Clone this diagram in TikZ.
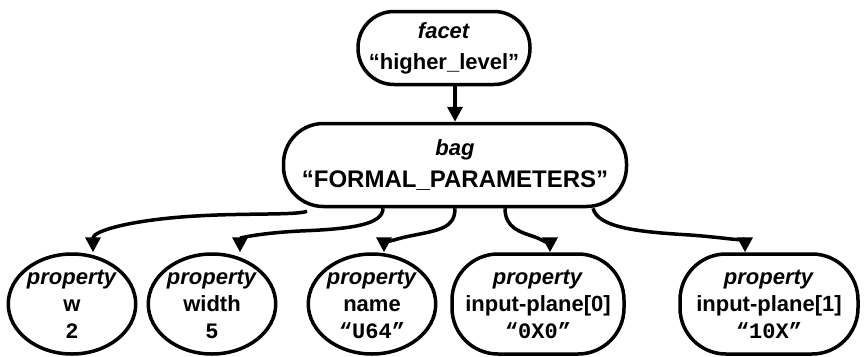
\documentclass[tikz,border=0pt]{standalone}
\usepackage{fontspec}
\setmainfont{Liberation Sans}
\newfontfamily\monofnt{Liberation Mono}
\usetikzlibrary{arrows.meta,shapes.geometric}
\tikzset{
  lbl/.style={font=\fontsize{22}{30}\selectfont\bfseries, align=center, inner sep=0pt},
  boxnode/.style={lbl, draw, line width=3.5pt, rounded corners=36pt},
  ellnode/.style={lbl, draw, line width=3.5pt, ellipse, minimum width=116pt, minimum height=100pt, inner sep=0pt},
  stadnode/.style={lbl, draw, line width=3.5pt, rounded corners=46pt, minimum height=100pt},
  conn/.style={line width=3.5pt, -{Triangle[length=15pt,width=15pt]}},
}
\newcommand{\mv}[1]{{\monofnt\bfseries #1}}
\begin{document}
\begin{tikzpicture}[x=1pt,y=-1pt]
\useasboundingbox (0,0) rectangle (864,356);
\node[boxnode, minimum width=172pt, minimum height=73pt] (facet) at (444,48)
  {\textit{facet}\\[1pt] “higher\_level”};
\node[boxnode, rounded corners=40pt, minimum width=343pt, minimum height=83pt] (bag) at (455,165)
  {\textit{bag}\\[2pt] {\fontsize{24}{30}\selectfont “FORMAL\_PARAMETERS”}};
\node[ellnode] (p1) at (72,304) {\textit{property}\\[-3pt] w\\[-3pt] \mv{2}};
\node[ellnode, minimum width=100pt] (p2) at (212,304) {\textit{property}\\[-3pt] width\\[-3pt] \mv{5}};
\node[ellnode, minimum width=124pt] (p3) at (372,304) {\textit{property}\\[-3pt] name\\[-3pt] \mv{“U64”}};
\node[stadnode, minimum width=172pt] (p4) at (538,304) {\textit{property}\\[-3pt] input-plane[0]\\[-3pt] \mv{“0X0”}};
\node[stadnode, minimum width=178pt] (p5) at (769,304) {\textit{property}\\[-3pt] input-plane[1]\\[-3pt] \mv{“10X”}};

\draw[conn] ([xshift=11pt]facet.south) -- ([xshift=0pt]bag.north);
\draw[conn] ([xshift=-148pt,yshift=-3pt]bag.south) .. controls (295,216) and (230,212) .. (170,218)
  .. controls (120,223) and (93,232) .. ([xshift=21pt]p1.north);
\draw[conn] ([xshift=-72pt]bag.south) .. controls (383,225) and (350,229) .. (300,231)
  .. controls (260,233) and (240,238) .. ([xshift=28pt]p2.north);
\draw[conn] ([xshift=0pt]bag.south) .. controls (455,228) and (440,230) .. (410,236)
  .. controls (390,240) and (384,245) .. ([xshift=12pt]p3.north);
\draw[conn] ([xshift=50pt]bag.south) .. controls (505,228) and (520,232) .. (535,237)
  .. controls (548,242) and (550,247) .. ([xshift=12pt]p4.north);
\draw[conn] ([xshift=138pt]bag.south) .. controls (598,228) and (640,232) .. (690,235)
  .. controls (730,238) and (745,242) .. ([xshift=-24pt]p5.north);
\end{tikzpicture}
\end{document}
